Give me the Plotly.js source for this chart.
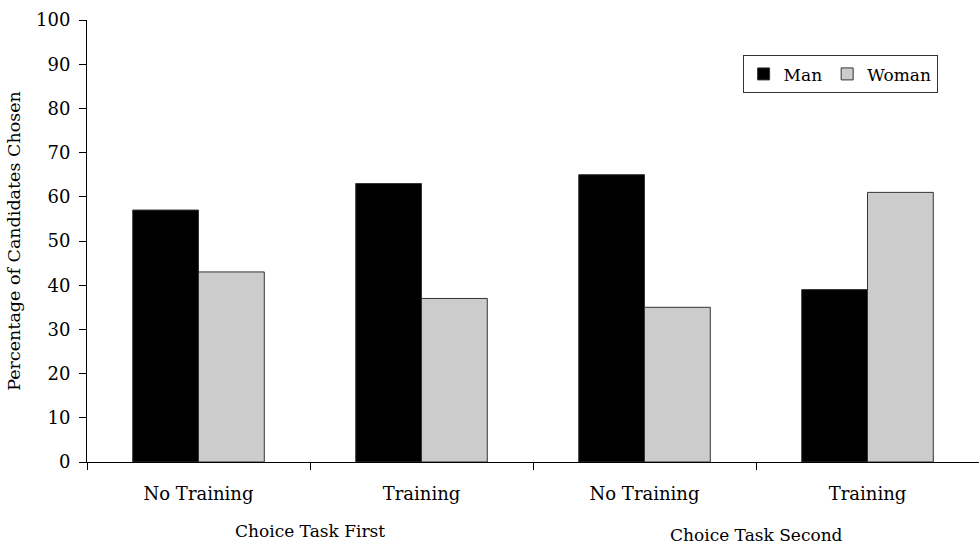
<!DOCTYPE html>
<html><head><meta charset="utf-8">
<script src="https://cdn.plot.ly/plotly-3.0.1.min.js"></script>
<style>html,body{margin:0;padding:0;background:#fff}#c{width:979px;height:545px}</style>
</head><body><div id="c"></div>
<script>
var conditions = ["No Training", "Training", "No Training", "Training"];
var groups = ["Choice Task First", "Choice Task Second"];
var manValues = [57, 63, 65, 39];
var womanValues = [43, 37, 35, 61];
var yTicks = [0, 10, 20, 30, 40, 50, 60, 70, 80, 90, 100];

var pos = conditions.map(function(_, i){ return i; });
var bounds = [-0.5].concat(pos.map(function(p){ return p + 0.5; }));
var FONT = "DejaVu Serif, Liberation Serif, serif";
var FS = 18;

var traces = [
  {type:"bar", name:"Man", x:pos, y:manValues,
   marker:{color:"#000000", line:{color:"#333333", width:1}}},
  {type:"bar", name:"Woman", x:pos, y:womanValues,
   marker:{color:"#cccccc", line:{color:"#333333", width:1}}},
  {type:"scatter", x:bounds, y:bounds.map(function(){return 0;}), xaxis:"x2",
   mode:"none", showlegend:false, hoverinfo:"skip"}
];

var annotations = groups.map(function(g, i){
  return {text:g, x:2*i + 0.5, xref:"x", y:0, yref:"paper", yanchor:"top",
          yshift:(i === 0 ? -57 : -61), showarrow:false,
          font:{family:FONT, size:17, color:"#000"}};
});

var layout = {
  width:979, height:545,
  margin:{l:87, r:0, t:20, b:83},
  paper_bgcolor:"#fff", plot_bgcolor:"#fff",
  barmode:"group", bargap:0.41, bargroupgap:0,
  font:{family:FONT, size:FS, color:"#000"},
  showlegend:true,
  legend:{orientation:"h", x:0.735, y:0.92, xanchor:"left", yanchor:"top",
          bordercolor:"#333", borderwidth:1, bgcolor:"#fff",
          font:{family:FONT, size:17, color:"#000"}, itemwidth:30, tracegroupgap:0},
  xaxis:{range:[-0.5, 3.5], tickmode:"array", tickvals:pos, ticktext:conditions,
         ticks:"", showgrid:false, zeroline:false, showline:true, linecolor:"#000", linewidth:1,
         tickfont:{family:FONT, size:FS, color:"#000"}, ticklabelstandoff:15, fixedrange:true},
  xaxis2:{range:[-0.5, 3.5], overlaying:"x", tickmode:"array", tickvals:bounds,
          showticklabels:false, ticks:"outside", ticklen:7, tickcolor:"#000", tickwidth:1,
          showgrid:false, zeroline:false, showline:false, anchor:"y"},
  yaxis:{range:[0, 100], tickmode:"array", tickvals:yTicks, ticks:"outside", ticklen:7,
         tickcolor:"#000", showgrid:false, zeroline:false, showline:true, linecolor:"#000",
         linewidth:1, tickfont:{family:FONT, size:FS, color:"#000"}, ticklabelstandoff:5,
         title:{text:"Percentage of Candidates Chosen", font:{family:FONT, size:17.5, color:"#000"}, standoff:10}},
  annotations:annotations
};
Plotly.newPlot("c", traces, layout, {displayModeBar:false, staticPlot:true});
</script></body></html>
